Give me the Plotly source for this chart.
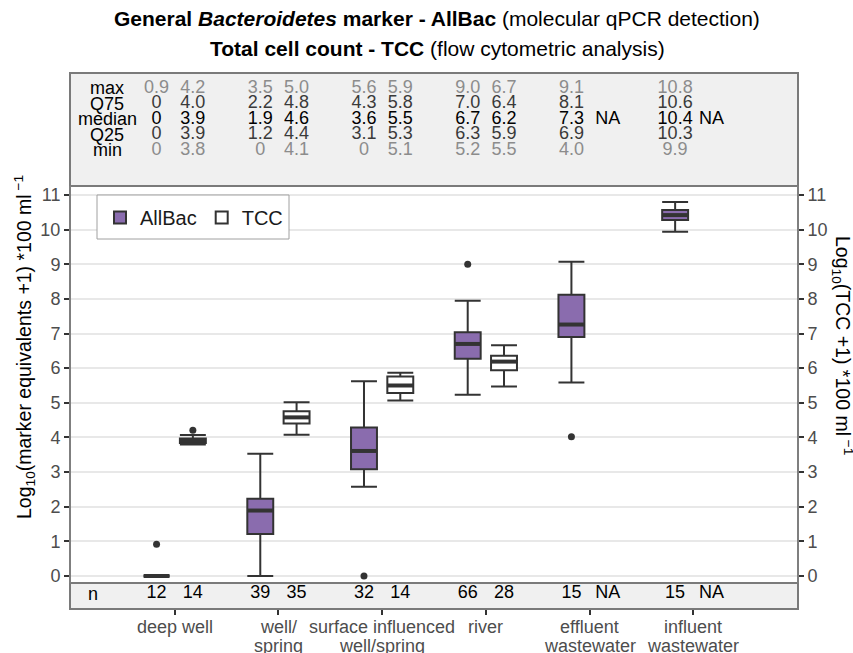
import plotly.graph_objects as go

W, H = 853, 653

# ---------------- data ----------------
categories = ["deep well", "well/<br>spring", "surface influenced<br>well/spring",
              "river", "effluent<br>wastewater", "influent<br>wastewater"]

# AllBac (log10 marker equivalents) box statistics
allbac_lower = [0.0, 0.0, 2.58, 5.23, 5.59, 9.94]
allbac_q1 = [0.0, 1.21, 3.08, 6.27, 6.90, 10.28]
allbac_median = [0.0, 1.89, 3.61, 6.70, 7.26, 10.42]
allbac_q3 = [0.0, 2.23, 4.29, 7.04, 8.12, 10.57]
allbac_upper = [0.0, 3.53, 5.62, 7.95, 9.07, 10.80]
allbac_outlier_cat = [0, 2, 3, 4]
allbac_outlier_val = [0.92, 0.0, 9.0, 4.02]

# TCC (log10 total cell count) box statistics (first four categories only)
tcc_lower = [3.80, 4.08, 5.07, 5.47]
tcc_q1 = [3.84, 4.40, 5.28, 5.94]
tcc_median = [3.90, 4.58, 5.50, 6.19]
tcc_q3 = [3.97, 4.76, 5.76, 6.36]
tcc_upper = [4.07, 5.02, 5.87, 6.66]
tcc_outlier_cat = [0]
tcc_outlier_val = [4.21]

# summary table
stat_rows = ["max", "Q75", "median", "Q25", "min"]
allbac_table = [
    ["0.9", "3.5", "5.6", "9.0", "9.1", "10.8"],
    ["0", "2.2", "4.3", "7.0", "8.1", "10.6"],
    ["0", "1.9", "3.6", "6.7", "7.3", "10.4"],
    ["0", "1.2", "3.1", "6.3", "6.9", "10.3"],
    ["0", "0", "0", "5.2", "4.0", "9.9"],
]
tcc_table = [
    ["4.2", "5.0", "5.9", "6.7", "", ""],
    ["4.0", "4.8", "5.8", "6.4", "", ""],
    ["3.9", "4.6", "5.5", "6.2", "NA", "NA"],
    ["3.9", "4.4", "5.3", "5.9", "", ""],
    ["3.8", "4.1", "5.1", "5.5", "", ""],
]
n_allbac = ["12", "39", "32", "66", "15", "15"]
n_tcc = ["14", "35", "14", "28", "NA", "NA"]

y_ticks = list(range(0, 12))

# ---------------- styling ----------------
FONT = "Liberation Sans, Arial, sans-serif"
PURPLE = "#8a6cae"
DARK = "#333333"
OFF = 0.175      # dodge offset (category units)
BW = 0.25        # box width (category units)
row_colors = ["#8c8c8c", "#3a3a3a", "#000000", "#3a3a3a", "#8c8c8c"]


def px_x(p):
    return p / W


def px_y(p):
    return 1 - p / H


idx = list(range(len(categories)))
pos_a = [i - OFF for i in idx]
pos_t = [i + OFF for i in idx[:len(tcc_median)]]

fig = go.Figure()

fig.add_trace(go.Box(
    x=pos_a, q1=allbac_q1, median=allbac_median, q3=allbac_q3,
    lowerfence=allbac_lower, upperfence=allbac_upper,
    width=BW, whiskerwidth=1, fillcolor=PURPLE,
    line=dict(color=DARK, width=2), boxpoints=False, name="AllBac",
    xaxis="x", yaxis="y", hoverinfo="skip"))
fig.add_trace(go.Box(
    x=pos_t, q1=tcc_q1, median=tcc_median, q3=tcc_q3,
    lowerfence=tcc_lower, upperfence=tcc_upper,
    width=BW, whiskerwidth=1, fillcolor="white",
    line=dict(color=DARK, width=2), boxpoints=False, name="TCC",
    xaxis="x", yaxis="y", hoverinfo="skip"))

# thicker median bars
mx, my = [], []
for p, m in list(zip(pos_a, allbac_median)) + list(zip(pos_t, tcc_median)):
    mx += [p - BW / 2, p + BW / 2, None]
    my += [m, m, None]
fig.add_trace(go.Scatter(x=mx, y=my, mode="lines", line=dict(color=DARK, width=4),
                         showlegend=False, hoverinfo="skip", xaxis="x", yaxis="y"))

# outliers
fig.add_trace(go.Scatter(
    x=[c - OFF for c in allbac_outlier_cat] + [c + OFF for c in tcc_outlier_cat],
    y=allbac_outlier_val + tcc_outlier_val, mode="markers",
    marker=dict(color=DARK, size=7), showlegend=False, hoverinfo="skip",
    xaxis="x", yaxis="y"))

# summary table text
for r in range(len(stat_rows)):
    fig.add_trace(go.Scatter(
        x=pos_a + [i + OFF for i in idx], y=[r] * (2 * len(idx)),
        text=allbac_table[r] + tcc_table[r], mode="text",
        textfont=dict(family=FONT, size=18, color=row_colors[r]),
        showlegend=False, hoverinfo="skip", xaxis="x", yaxis="y3"))

# n row
fig.add_trace(go.Scatter(
    x=pos_a + [i + OFF for i in idx], y=[0] * (2 * len(idx)),
    text=n_allbac + n_tcc, mode="text",
    textfont=dict(family=FONT, size=18, color="#000000"),
    showlegend=False, hoverinfo="skip", xaxis="x", yaxis="y4"))

# dummy trace so the right axis is rendered
fig.add_trace(go.Scatter(x=[None], y=[None], yaxis="y2", xaxis="x",
                         showlegend=False, hoverinfo="skip"))

# ---------------- layout ----------------
X0, X1 = 71, 797
MAIN_T, MAIN_B = 186, 583
STAT_T, STAT_B = 73, 186
N_T, N_B = 583, 609
y0px, y11px = 576, 195
unit = (y0px - y11px) / 11.0
yr = [-(MAIN_B - y0px) / unit, 11 + (y11px - MAIN_T) / unit]

row0, rowstep = 88, 15.6
y3r = [(STAT_B - row0) / rowstep, (STAT_T - row0) / rowstep]
n_text = 593.5
y4r = [-(N_B - n_text), (n_text - N_T)]

fig.update_layout(
    width=W, height=H, margin=dict(l=0, r=0, t=0, b=0, autoexpand=False),
    paper_bgcolor="white", plot_bgcolor="rgba(0,0,0,0)",
    font=dict(family=FONT, size=18, color="#4d4d4d"),
    showlegend=True,
    legend=dict(x=px_x(100), y=px_y(198), xanchor="left", yanchor="top",
                orientation="h", bgcolor="rgba(0,0,0,0)", borderwidth=0,
                font=dict(size=20, color="#1a1a1a")),
    xaxis=dict(domain=[px_x(X0), px_x(X1)], range=[-1, 6], anchor="y4",
               tickmode="array", tickvals=idx, showticklabels=False,
               ticks="outside", ticklen=5, tickwidth=1.5, tickcolor=DARK,
               showgrid=False, zeroline=False, showline=False, automargin=False),
    yaxis=dict(domain=[px_y(MAIN_B), px_y(MAIN_T)], range=yr, anchor="x",
               tickvals=y_ticks, ticks="outside", ticklen=5, tickwidth=1.5,
               tickcolor=DARK, showgrid=True, gridcolor="#e8e8e8", gridwidth=1.5,
               zeroline=False, showline=True, linecolor="#7f7f7f", linewidth=2,
               automargin=False, tickfont=dict(size=18, color="#4d4d4d")),
    yaxis2=dict(overlaying="y", side="right", range=yr, anchor="x",
                tickvals=y_ticks, ticks="outside", ticklen=5, tickwidth=1.5,
                tickcolor=DARK, showgrid=False, zeroline=False, showline=True,
                linecolor="#7f7f7f", linewidth=2, automargin=False,
                tickfont=dict(size=18, color="#4d4d4d")),
    yaxis3=dict(domain=[px_y(STAT_B), px_y(STAT_T)], range=y3r, anchor="x",
                visible=False),
    yaxis4=dict(domain=[px_y(N_B), px_y(N_T)], range=y4r, anchor="x",
                visible=False),
)

shapes = []
for (t, b) in [(STAT_T, STAT_B), (N_T, N_B)]:
    shapes.append(dict(type="rect", xref="paper", yref="paper",
                       x0=px_x(70), x1=px_x(798), y0=px_y(b), y1=px_y(t),
                       fillcolor="#f0f0f0", line=dict(color="#7a7a7a", width=2),
                       layer="below"))
# legend frame
shapes.append(dict(type="rect", xref="paper", yref="paper",
                   x0=px_x(97), x1=px_x(289), y0=px_y(239), y1=px_y(195),
                   fillcolor="white", line=dict(color="#a0a0a0", width=1),
                   layer="above"))
fig.update_layout(shapes=shapes)

ann = []
ann.append(dict(text="<b>General <i>Bacteroidetes</i> marker - AllBac</b> (molecular qPCR detection)",
                x=px_x(437), y=px_y(18), xref="paper", yref="paper",
                xanchor="center", yanchor="middle",
                showarrow=False, font=dict(size=21, color="black")))
ann.append(dict(text="<b>Total cell count - TCC</b> (flow cytometric analysis)",
                x=px_x(437), y=px_y(48), xref="paper", yref="paper",
                xanchor="center", yanchor="middle",
                showarrow=False, font=dict(size=21, color="black")))
for r, lab in enumerate(stat_rows):
    ann.append(dict(text=lab, x=px_x(107), y=r, xref="paper", yref="y3",
                    xanchor="center", yanchor="middle",
                    showarrow=False, font=dict(size=18, color="#000000")))
ann.append(dict(text="n", x=px_x(93), y=0, xref="paper", yref="y4",
                xanchor="center", yanchor="middle",
                showarrow=False, font=dict(size=18, color="#000000")))
# category labels (one annotation per text line, tight line spacing)
label_line_px = [627, 646]
for i, cat in enumerate(categories):
    for k, line in enumerate(cat.split("<br>")):
        ann.append(dict(text=line, x=i, y=px_y(label_line_px[k]), xref="x",
                        yref="paper", xanchor="center", yanchor="middle",
                        showarrow=False, font=dict(size=18, color="#4d4d4d")))
ann.append(dict(text="Log<sub>10</sub>(marker equivalents +1) *100 ml<sup> −1</sup>",
                x=px_x(24), y=px_y(347), xref="paper", yref="paper", textangle=-90,
                xanchor="center", yanchor="middle",
                showarrow=False, font=dict(size=19.5, color="black")))
ann.append(dict(text="Log<sub>10</sub>(TCC +1) *100 ml<sup> −1</sup>",
                x=px_x(843), y=px_y(345), xref="paper", yref="paper", textangle=90,
                xanchor="center", yanchor="middle",
                showarrow=False, font=dict(size=19.5, color="black")))
fig.update_layout(annotations=ann)

fig.write_html("out.html")
